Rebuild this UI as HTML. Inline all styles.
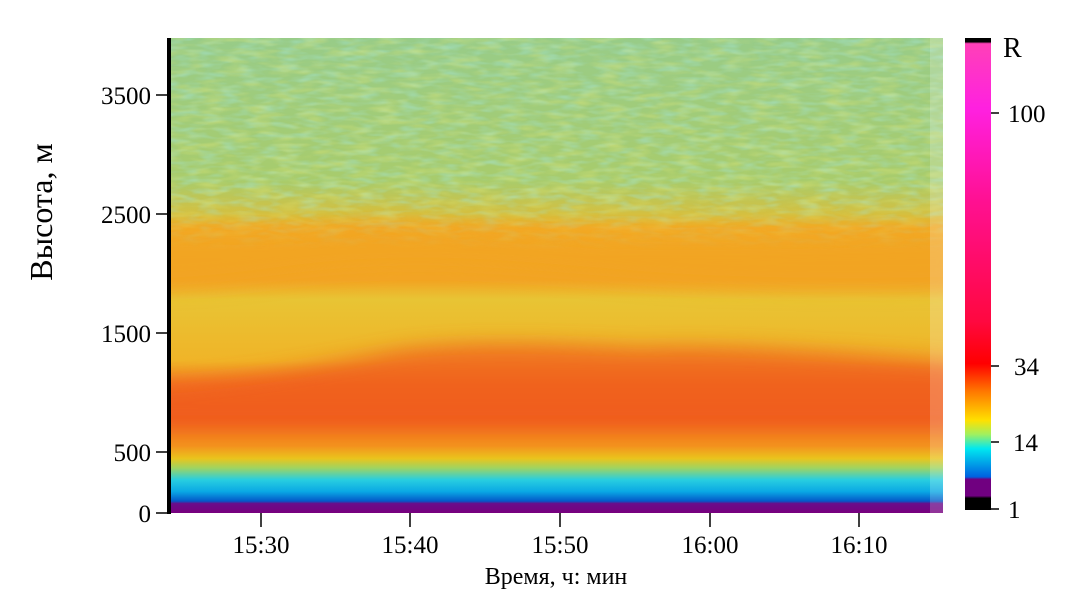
<!DOCTYPE html>
<html><head><meta charset="utf-8"><style>
html,body{margin:0;padding:0;background:#fff;}
body{width:1077px;height:600px;overflow:hidden;position:relative;font-family:"Liberation Serif",serif;}
</style></head><body>
<svg width="1077" height="600" viewBox="0 0 1077 600" xmlns="http://www.w3.org/2000/svg" style="position:absolute;left:0;top:0">
<defs>
<linearGradient id="base" x1="0" y1="38" x2="0" y2="513" gradientUnits="userSpaceOnUse">
<stop offset="0" stop-color="#98cc88"/>
<stop offset="0.30" stop-color="#a8cc6c"/>
<stop offset="0.37" stop-color="#d4c040"/>
<stop offset="0.40" stop-color="#f2aa24"/>
<stop offset="0.51" stop-color="#f2a424"/>
<stop offset="0.55" stop-color="#e8c434"/>
<stop offset="0.68" stop-color="#f0b428"/>
<stop offset="0.73" stop-color="#f27c22"/>
<stop offset="0.80" stop-color="#f0641e"/>
<stop offset="0.86" stop-color="#f3941e"/>
<stop offset="0.885" stop-color="#eac41c"/>
<stop offset="0.905" stop-color="#a0d460"/>
<stop offset="0.93" stop-color="#28cee0"/>
<stop offset="0.955" stop-color="#0aa8e4"/>
<stop offset="0.975" stop-color="#0458c8"/>
<stop offset="0.98" stop-color="#6a0d8a"/>
<stop offset="1" stop-color="#78007e"/>
</linearGradient>
<linearGradient id="fade" x1="0" y1="38" x2="0" y2="250" gradientUnits="userSpaceOnUse">
<stop offset="0" stop-color="#fff"/>
<stop offset="0.75" stop-color="#fff"/>
<stop offset="1" stop-color="#000"/>
</linearGradient>
<mask id="fm"><rect x="0" y="0" width="1077" height="600" fill="url(#fade)"/></mask>
<linearGradient id="cb" x1="0" y1="38" x2="0" y2="510" gradientUnits="userSpaceOnUse">
<stop offset="0" stop-color="#000"/>
<stop offset="0.008" stop-color="#000"/>
<stop offset="0.012" stop-color="#ff40b8"/>
<stop offset="0.15" stop-color="#ff20e0"/>
<stop offset="0.35" stop-color="#ff1090"/>
<stop offset="0.6" stop-color="#ff0840"/>
<stop offset="0.69" stop-color="#ff0000"/>
<stop offset="0.75" stop-color="#ff7a00"/>
<stop offset="0.81" stop-color="#ffe000"/>
<stop offset="0.84" stop-color="#a0f060"/>
<stop offset="0.87" stop-color="#00e8f0"/>
<stop offset="0.93" stop-color="#0060e0"/>
<stop offset="0.935" stop-color="#700080"/>
<stop offset="0.97" stop-color="#700080"/>
<stop offset="0.975" stop-color="#000"/>
<stop offset="1" stop-color="#000"/>
</linearGradient>
<filter id="blur" x="-10%" y="-20%" width="120%" height="140%"><feGaussianBlur stdDeviation="10"/></filter>
<filter id="noise" x="0" y="0" width="100%" height="100%">
<feTurbulence type="fractalNoise" baseFrequency="0.05 0.18" numOctaves="2" seed="3"/>
<feColorMatrix type="matrix" values="0 0 0 0 0.38  0 0 0 0 0.78  0 0 0 0 0.66  0 0 0 2.2 -0.9"/>
</filter>
<filter id="noise2" x="0" y="0" width="100%" height="100%">
<feTurbulence type="fractalNoise" baseFrequency="0.04 0.16" numOctaves="2" seed="9"/>
<feColorMatrix type="matrix" values="0 0 0 0 0.78  0 0 0 0 0.82  0 0 0 0 0.2  0 0 0 2.2 -0.95"/>
</filter>
<clipPath id="pc"><rect x="171" y="38" width="772" height="475"/></clipPath>
</defs>
<g clip-path="url(#pc)">
<rect x="170" y="38" width="773" height="475" fill="url(#base)"/>
<g filter="url(#blur)" opacity="0.75">
<path d="M150 385 C250 380 320 365 400 350 C480 340 560 345 640 348 C720 345 800 350 960 362 L960 425 L150 425Z" fill="#f05a1a"/>
<path d="M150 235 C250 232 300 238 370 222 C450 228 520 232 600 238 C700 240 800 238 960 234 L960 288 C850 290 750 290 650 283 C550 275 450 265 370 270 C300 272 250 286 150 290Z" fill="#f2a420"/>
</g>
<g mask="url(#fm)">
<rect x="170" y="38" width="773" height="230" filter="url(#noise)" opacity="0.5"/>
<rect x="170" y="38" width="773" height="230" filter="url(#noise2)" opacity="0.4"/>
</g>
<rect x="930" y="38" width="13" height="475" fill="#fff" opacity="0.2"/>
</g>
<rect x="167" y="38" width="4" height="476" fill="#000"/>
<g stroke="#000" stroke-width="1.5">
<line x1="156" y1="513" x2="170" y2="513"/>
<line x1="156" y1="452" x2="170" y2="452"/>
<line x1="156" y1="333" x2="170" y2="333"/>
<line x1="156" y1="214" x2="170" y2="214"/>
<line x1="156" y1="95" x2="170" y2="95"/>
<line x1="261" y1="513" x2="261" y2="527"/>
<line x1="410" y1="513" x2="410" y2="527"/>
<line x1="560" y1="513" x2="560" y2="527"/>
<line x1="710" y1="513" x2="710" y2="527"/>
<line x1="859" y1="513" x2="859" y2="527"/>
<line x1="991" y1="113" x2="999" y2="113"/>
<line x1="991" y1="366" x2="999" y2="366"/>
<line x1="991" y1="442" x2="999" y2="442"/>
<line x1="991" y1="509" x2="999" y2="509"/>
</g>
<g font-size="25" fill="#000" text-anchor="end">
<text x="151" y="522">0</text>
<text x="151" y="461">500</text>
<text x="151" y="342">1500</text>
<text x="151" y="223">2500</text>
<text x="151" y="104">3500</text>
</g>
<g font-size="25" fill="#000" text-anchor="middle">
<text x="261" y="553">15:30</text>
<text x="410" y="553">15:40</text>
<text x="560" y="553">15:50</text>
<text x="710" y="553">16:00</text>
<text x="859" y="553">16:10</text>
<text x="556" y="584" font-size="24">Время, ч: мин</text>
</g>
<text transform="translate(52 212) rotate(-90)" font-size="32" text-anchor="middle">Высота, м</text>
<rect x="965" y="38" width="26" height="472" fill="url(#cb)"/>
<g font-size="25" fill="#000">
<text x="1003" y="57" font-size="28">R</text>
<text x="1008" y="122">100</text>
<text x="1014" y="375">34</text>
<text x="1013" y="451">14</text>
<text x="1008" y="518">1</text>
</g>
</svg>
</body></html>
